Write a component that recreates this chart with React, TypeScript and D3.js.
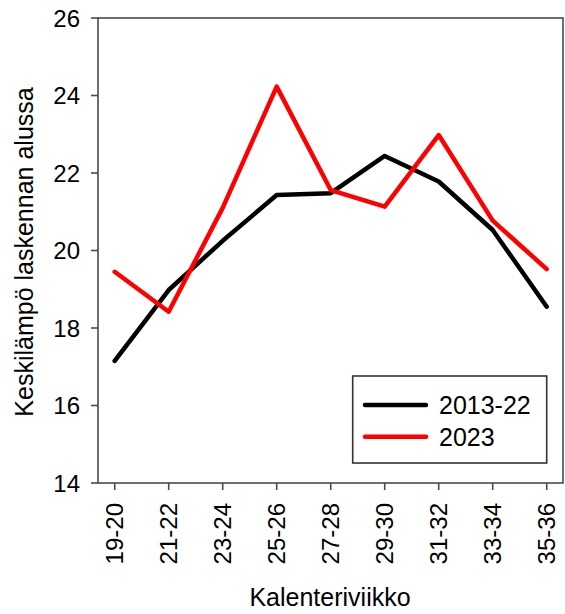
import React from "react";
import * as d3 from "d3";

// Calendar week pairs (x axis)
const weeks = ["19-20", "21-22", "23-24", "25-26", "27-28", "29-30", "31-32", "33-34", "35-36"];
// Mean temperature at the start of counting, 2013-22 average
const avg2013_22 = [17.15, 18.98, 20.25, 21.43, 21.48, 22.44, 21.78, 20.53, 18.55];
// Mean temperature at the start of counting, 2023
const year2023 = [19.45, 18.42, 21.1, 24.23, 21.56, 21.13, 22.98, 20.77, 19.52];
const yTicks = [14, 16, 18, 20, 22, 24, 26];
const seriesNames = ["2013-22", "2023"];
const seriesColors = ["#000000", "#ff0000"];

const W = 565;
const H = 614;
const left = 98;
const right = 563;
const top = 18;
const bottom = 483;
const font = "'Liberation Sans', Arial, sans-serif";

export default function App() {
  const x = d3.scalePoint<string>().domain(weeks).range([114.7, 546.7]);
  const y = d3.scaleLinear().domain([14, 26]).range([bottom, top]);
  const line = d3
    .line<number>()
    .x((_, i) => x(weeks[i]) as number)
    .y((d) => y(d));
  const series = [avg2013_22, year2023];
  const axisColor = "#4a4a4a";

  return (
    <svg
      width={W}
      height={H}
      style={{ position: "absolute", left: 0, top: 0, background: "#fff" }}
      fontFamily={font}
    >
      <rect x={0} y={0} width={W} height={H} fill="#fff" />
      {/* plot frame */}
      <rect
        x={left}
        y={top}
        width={right - left}
        height={bottom - top}
        fill="none"
        stroke={axisColor}
        strokeWidth={1.6}
      />
      {/* y axis ticks and labels */}
      {yTicks.map((t) => (
        <g key={t}>
          <line x1={left - 7} x2={left} y1={y(t)} y2={y(t)} stroke={axisColor} strokeWidth={1.6} />
          <text
            x={80}
            y={y(t)}
            textAnchor="end"
            dominantBaseline="central"
            fontSize={24}
            fill="#000"
          >
            {t}
          </text>
        </g>
      ))}
      {/* x axis ticks and rotated labels */}
      {weeks.map((w) => (
        <g key={w}>
          <line
            x1={x(w)}
            x2={x(w)}
            y1={bottom}
            y2={bottom + 7}
            stroke={axisColor}
            strokeWidth={1.6}
          />
          <text
            transform={`translate(${x(w)},503) rotate(-90)`}
            textAnchor="end"
            dominantBaseline="central"
            fontSize={24}
            fill="#000"
          >
            {w}
          </text>
        </g>
      ))}
      {/* series lines */}
      {series.map((s, i) => (
        <path
          key={seriesNames[i]}
          d={line(s) || ""}
          fill="none"
          stroke={seriesColors[i]}
          strokeWidth={4.5}
          strokeLinejoin="round"
          strokeLinecap="round"
        />
      ))}
      {/* axis titles */}
      <text x={330} y={606} textAnchor="middle" fontSize={25} fill="#000">
        Kalenteriviikko
      </text>
      <text
        transform="translate(33,252) rotate(-90)"
        textAnchor="middle"
        fontSize={25}
        fill="#000"
      >
        Keskilämpö laskennan alussa
      </text>
      {/* legend */}
      <rect x={352.7} y={376} width={194} height={87} fill="#fff" stroke="#333" strokeWidth={1.6} />
      {seriesNames.map((n, i) => {
        const ly = 405 + i * 31.7;
        return (
          <g key={n}>
            <line
              x1={365}
              x2={426}
              y1={ly}
              y2={ly}
              stroke={seriesColors[i]}
              strokeWidth={4.5}
              strokeLinecap="round"
            />
            <text x={439} y={ly} dominantBaseline="central" fontSize={25} fill="#000">
              {n}
            </text>
          </g>
        );
      })}
    </svg>
  );
}
